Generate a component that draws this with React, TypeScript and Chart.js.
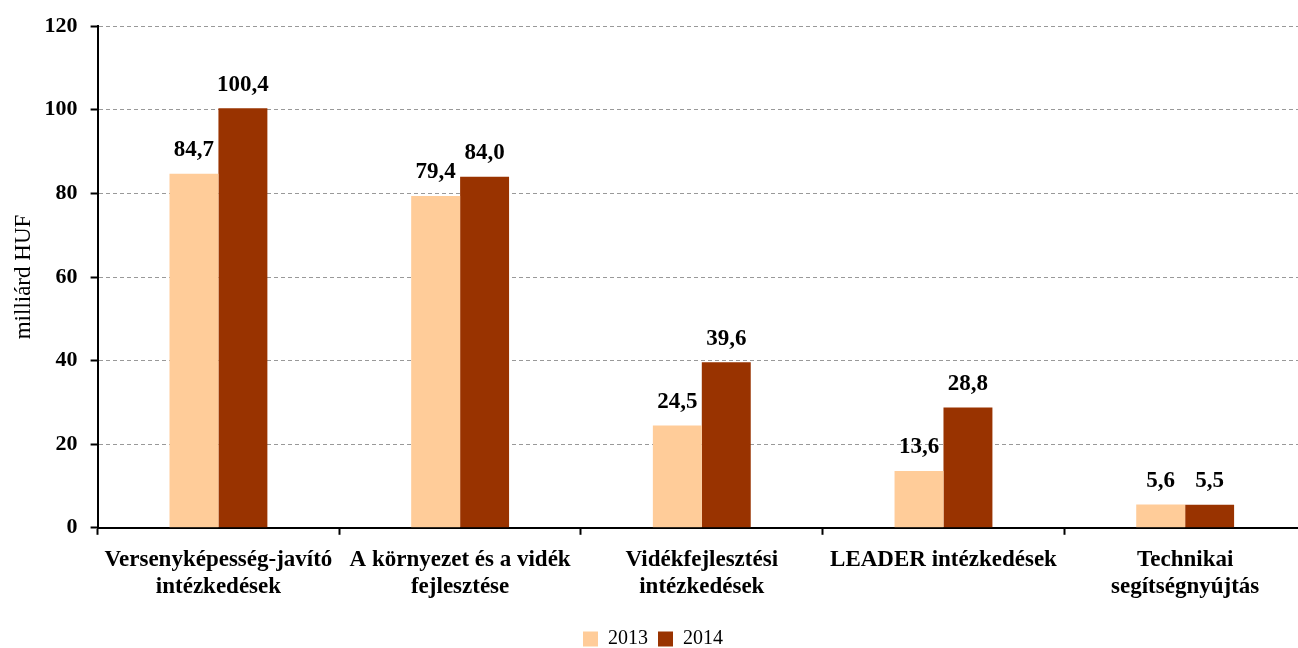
import React, { useEffect, useRef } from "react";
import { Chart, registerables } from "chart.js";

Chart.register(...registerables);

const categories: string[][] = [
  ["Versenyképesség-javító", "intézkedések"],
  ["A környezet és a vidék", "fejlesztése"],
  ["Vidékfejlesztési", "intézkedések"],
  ["LEADER intézkedések"],
  ["Technikai", "segítségnyújtás"],
];
const series2013: number[] = [84.7, 79.4, 24.5, 13.6, 5.6];
const series2014: number[] = [100.4, 84.0, 39.6, 28.8, 5.5];
const yTicks: number[] = [0, 20, 40, 60, 80, 100, 120];

const FONT = "'Liberation Serif', 'Times New Roman', serif";

const labelPlugin = {
  id: "valueLabels",
  afterDatasetsDraw(chart: any) {
    const ctx = chart.ctx;
    ctx.save();
    ctx.font = `bold 23px ${FONT}`;
    ctx.fillStyle = "#000";
    ctx.textAlign = "center";
    ctx.textBaseline = "bottom";
    chart.data.datasets.forEach((ds: any, i: number) => {
      const meta = chart.getDatasetMeta(i);
      meta.data.forEach((el: any, j: number) => {
        const v = ds.data[j] as number;
        ctx.fillText(v.toFixed(1).replace(".", ","), el.x, el.y - 12);
      });
    });
    ctx.restore();
  },
};

export default function App() {
  const ref = useRef<HTMLCanvasElement | null>(null);
  useEffect(() => {
    document.body.style.margin = "0";
    if (!ref.current) return;
    const chart = new Chart(ref.current, {
      type: "bar",
      data: {
        labels: categories,
        datasets: [
          { label: "2013", data: series2013, backgroundColor: "#FFCC99" },
          { label: "2014", data: series2014, backgroundColor: "#993300" },
        ],
      },
      options: {
        animation: false,
        responsive: false,
        maintainAspectRatio: false,
        layout: { padding: { top: 13, left: 0, right: 0, bottom: -11 } },
        datasets: {
          bar: { categoryPercentage: 0.405, barPercentage: 1 },
        } as any,
        plugins: {
          legend: {
            position: "bottom",
            labels: {
              font: { family: FONT, size: 20 },
              color: "#000",
              boxWidth: 15,
              boxHeight: 15,
              padding: 10,
            },
          },
          tooltip: { enabled: false },
        },
        scales: {
          x: {
            afterFit: (scale: any) => {
              scale.height += 7;
            },
            grid: {
              offset: true,
              drawOnChartArea: false,
              drawTicks: true,
              tickLength: 7,
              tickColor: "#000",
              tickWidth: 2,
            } as any,
            border: { color: "#000", width: 2 },
            ticks: {
              color: "#000",
              font: { family: FONT, size: 23, weight: "bold", lineHeight: 1.2 },
              maxRotation: 0,
              autoSkip: false,
              padding: 11,
            },
          },
          y: {
            min: 0,
            max: 120,
            afterBuildTicks: (axis: any) => {
              axis.ticks = yTicks.map((v) => ({ value: v }));
            },
            grid: {
              color: "#999",
              drawTicks: true,
              tickLength: 7,
              tickColor: "#000",
              tickWidth: 2,
              tickBorderDash: [],
            } as any,
            border: { color: "#000", width: 2, dash: [4, 3] },
            ticks: {
              color: "#000",
              font: { family: FONT, size: 22, weight: "bold" },
              padding: 13,
            },
            title: {
              display: true,
              text: "milliárd HUF",
              color: "#000",
              font: { family: FONT, size: 23, lineHeight: 1.2 },
              padding: { top: 10, bottom: -6 },
            },
          },
        },
      },
      plugins: [labelPlugin],
    });
    return () => chart.destroy();
  }, []);
  return (
    <div style={{ width: 1298, height: 648, overflow: "hidden", position: "relative", background: "#fff" }}>
      <canvas ref={ref} width={1306} height={648} style={{ width: 1306, height: 648, display: "block" }} />
    </div>
  );
}
